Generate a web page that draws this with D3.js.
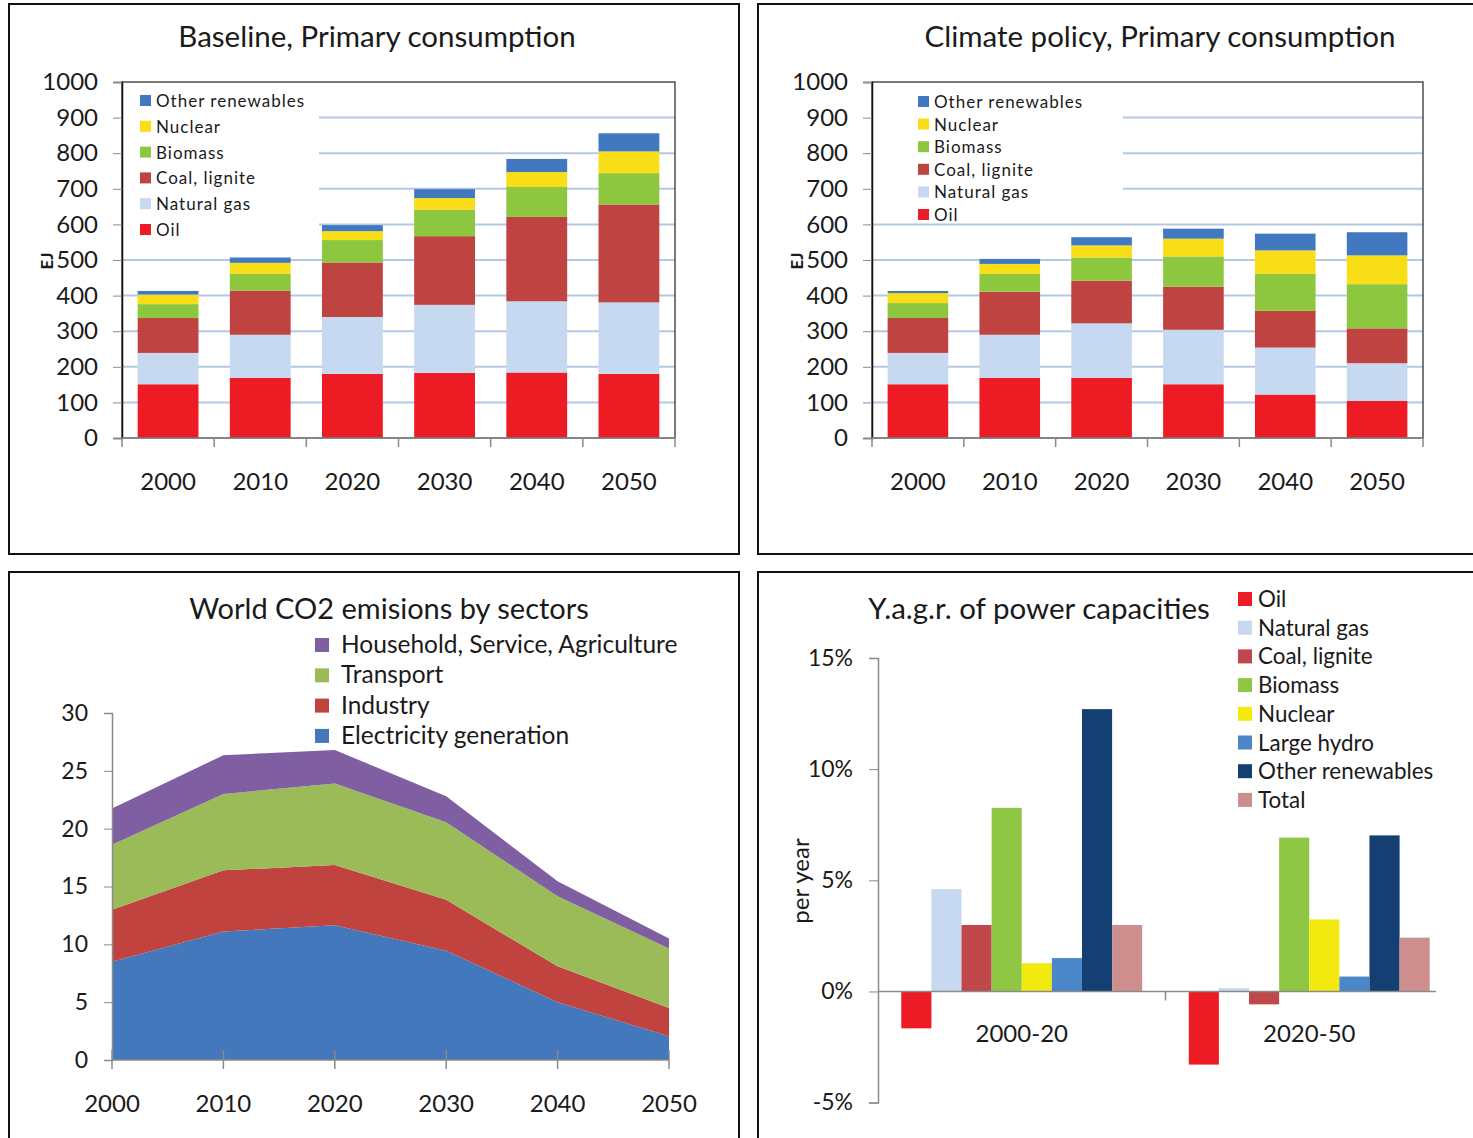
<!DOCTYPE html>
<html>
<head>
<meta charset="utf-8">
<script src="https://cdn.jsdelivr.net/npm/d3@7"></script>
<style>
body { margin: 0; background: #fff; }
svg text { font-family: Lato, "Open Sans", sans-serif; fill: #1a1a1a; }
</style>
</head>
<body>
<svg id="chart" width="1473" height="1138"></svg>
<script>
// ---- data ----
var years = ["2000", "2010", "2020", "2030", "2040", "2050"];
var fuels = ["Oil", "Natural gas", "Coal, lignite", "Biomass", "Nuclear", "Other renewables"];

// Baseline, primary consumption (EJ)
var baseOil     = [151, 169, 180, 183, 184, 180];
var baseGas     = [88, 121, 160, 191, 200, 201];
var baseCoal    = [98, 124, 153, 193, 237, 275];
var baseBiomass = [39, 47, 63, 74, 84, 88];
var baseNuclear = [27, 31, 25, 33, 42, 61];
var baseOther   = [10, 15, 17, 25, 37, 51];

// Climate policy, primary consumption (EJ)
var polOil     = [151, 169, 169, 151, 122, 104];
var polGas     = [88, 121, 153, 153, 132, 106];
var polCoal    = [98, 121, 120, 121, 103, 98];
var polBiomass = [42, 50, 65, 85, 104, 124];
var polNuclear = [28, 28, 34, 50, 66, 81];
var polOther   = [6, 14, 23, 28, 47, 65];

// World CO2 emissions by sector
var sectors = ["Electricity generation", "Industry", "Transport", "Household, Service, Agriculture"];
var co2Elec      = [8.5, 11.1, 11.65, 9.45, 5.0, 2.05];
var co2Industry  = [4.5, 5.3, 5.2, 4.4, 3.1, 2.45];
var co2Transport = [5.6, 6.6, 7.05, 6.7, 6.05, 5.15];
var co2Household = [3.15, 3.35, 2.9, 2.25, 1.3, 0.85];

// Yearly average growth rate of power capacities (%)
var periods = ["2000-20", "2020-50"];
var capSeries = ["Oil", "Natural gas", "Coal, lignite", "Biomass", "Nuclear", "Large hydro", "Other renewables", "Total"];
var cap2000_20 = [-1.66, 4.6, 2.99, 8.26, 1.27, 1.5, 12.7, 2.99];
var cap2020_50 = [-3.29, 0.15, -0.58, 6.92, 3.24, 0.67, 7.02, 2.42];

// ---- colours ----
var fuelColor = d3.scaleOrdinal()
  .domain(fuels)
  .range(["#ED1C24", "#C6D9F0", "#BE4341", "#8DC63F", "#F9DD16", "#4079BF"]);
var sectorColor = d3.scaleOrdinal()
  .domain(sectors)
  .range(["#4379BC", "#C0433F", "#9BBB59", "#7F5FA1"]);
var capColor = d3.scaleOrdinal()
  .domain(capSeries)
  .range(["#ED1C24", "#C6D9F0", "#C0484A", "#8FC744", "#F2EA0F", "#4A86C8", "#143F72", "#CF8E8E"]);

var svg = d3.select("#chart");
var gridColor = "#B4C8E6", axisGrey = "#8a8a8a";

// panel frames
[[9, 4, 730, 550], [758, 4, 730, 550], [9, 572, 730, 580], [758, 572, 730, 580]].forEach(function (r) {
  svg.append("rect").attr("x", r[0]).attr("y", r[1]).attr("width", r[2]).attr("height", r[3])
    .attr("fill", "none").attr("stroke", "#111").attr("stroke-width", 2);
});

// ---- stacked bar panels ----
function primaryPanel(title, cols, o) {
  var g = svg.append("g");
  var rows = years.map(function (y, i) {
    var r = {year: y};
    fuels.forEach(function (f, k) { r[f] = cols[k][i]; });
    return r;
  });
  var x = d3.scaleBand().domain(years).range([o.left, o.right]).paddingInner(0.34).paddingOuter(0.17);
  var y = d3.scaleLinear().domain([0, 1000]).range([438, 82]);

  g.append("text").attr("x", o.titleX).attr("y", 47).attr("text-anchor", "middle")
    .style("font-size", "29.5px").text(title);

  // gridlines
  g.selectAll("line.grid").data(d3.range(100, 1000, 100)).enter().append("line")
    .attr("x1", o.left).attr("x2", o.right).attr("y1", d => y(d)).attr("y2", d => y(d))
    .attr("stroke", gridColor).attr("stroke-width", 2);

  // legend background hides gridlines
  g.append("rect").attr("x", o.left + 1).attr("y", 84).attr("width", o.legendW).attr("height", o.legendH)
    .attr("fill", "#fff");

  var stack = d3.stack().keys(fuels)(rows);
  g.selectAll("g.series").data(stack).enter().append("g")
    .attr("fill", d => fuelColor(d.key))
    .selectAll("rect").data(d => d).enter().append("rect")
    .attr("x", d => x(d.data.year)).attr("width", x.bandwidth())
    .attr("y", d => y(d[1])).attr("height", d => y(d[0]) - y(d[1]));

  // plot frame
  g.append("rect").attr("x", o.left).attr("y", 82).attr("width", o.right - o.left).attr("height", 356)
    .attr("fill", "none").attr("stroke", "#333").attr("stroke-width", 1.3);

  // y axis
  var ya = g.append("g").attr("transform", "translate(" + o.left + ",0)")
    .call(d3.axisLeft(y).tickValues(d3.range(0, 1001, 100)).tickFormat(d3.format("d")).tickSize(9).tickPadding(15));
  ya.select(".domain").attr("stroke", "#111").attr("stroke-width", 1.5);
  ya.selectAll(".tick line").attr("stroke", axisGrey);
  ya.selectAll("text").style("font-size", "24px").attr("fill", "#1a1a1a");

  // x axis
  g.append("line").attr("x1", o.left).attr("x2", o.right).attr("y1", 438).attr("y2", 438)
    .attr("stroke", axisGrey).attr("stroke-width", 1.5);
  g.selectAll("line.xt").data(d3.range(years.length + 1)).enter().append("line")
    .attr("x1", i => o.left + i * x.step()).attr("x2", i => o.left + i * x.step())
    .attr("y1", 438).attr("y2", 447).attr("stroke", axisGrey).attr("stroke-width", 1.5);
  g.selectAll("text.xl").data(years).enter().append("text")
    .attr("x", d => x(d) + x.bandwidth() / 2).attr("y", 490).attr("text-anchor", "middle")
    .style("font-size", "24px").text(d => d);

  // unit
  g.append("text").attr("transform", "translate(" + (o.left - 69) + ",261) rotate(-90)")
    .attr("text-anchor", "middle").style("font-size", "17px").style("font-weight", "bold").text("EJ");

  // legend
  var leg = g.selectAll("g.leg").data(fuels.slice().reverse()).enter().append("g")
    .attr("transform", (d, i) => "translate(" + o.legendX + "," + (o.legendY + i * o.legendStep) + ")");
  leg.append("rect").attr("x", 0).attr("y", -6).attr("width", 11).attr("height", 11).attr("fill", d => fuelColor(d));
  leg.append("text").attr("x", 16).attr("y", 6).style("font-size", "17px").style("letter-spacing", "1px").text(d => d);
}

primaryPanel("Baseline, Primary consumption",
  [baseOil, baseGas, baseCoal, baseBiomass, baseNuclear, baseOther],
  {left: 122, right: 675, titleX: 377, legendW: 196, legendH: 160, legendX: 140, legendY: 101, legendStep: 25.8});

primaryPanel("Climate policy, Primary consumption",
  [polOil, polGas, polCoal, polBiomass, polNuclear, polOther],
  {left: 872, right: 1423, titleX: 1160, legendW: 250, legendH: 138, legendX: 918, legendY: 102, legendStep: 22.6});

// ---- CO2 area panel ----
(function () {
  var g = svg.append("g");
  var yrs = years.map(Number);
  var rows = yrs.map(function (yr, i) {
    return {year: yr, "Electricity generation": co2Elec[i], "Industry": co2Industry[i],
      "Transport": co2Transport[i], "Household, Service, Agriculture": co2Household[i]};
  });
  var x = d3.scaleLinear().domain([2000, 2050]).range([112, 669]);
  var y = d3.scaleLinear().domain([0, 30]).range([1060, 713]);

  g.append("text").attr("x", 389).attr("y", 619).attr("text-anchor", "middle")
    .style("font-size", "29px").text("World CO2 emisions by sectors");

  var stack = d3.stack().keys(sectors)(rows);
  var area = d3.area().x(d => x(d.data.year)).y0(d => y(d[0])).y1(d => y(d[1]));
  g.selectAll("path.area").data(stack).enter().append("path")
    .attr("fill", d => sectorColor(d.key)).attr("d", area);

  var ya = g.append("g").attr("transform", "translate(112,0)")
    .call(d3.axisLeft(y).tickValues(d3.range(0, 31, 5)).tickSize(8).tickPadding(16));
  ya.select(".domain").attr("stroke", axisGrey).attr("stroke-width", 1.5);
  ya.selectAll(".tick line").attr("stroke", axisGrey);
  ya.selectAll("text").style("font-size", "23px").attr("fill", "#1a1a1a");

  g.append("line").attr("x1", 112).attr("x2", 669).attr("y1", 1060).attr("y2", 1060)
    .attr("stroke", axisGrey).attr("stroke-width", 1.5);
  g.selectAll("line.xt").data(yrs).enter().append("line")
    .attr("x1", d => x(d)).attr("x2", d => x(d)).attr("y1", 1050).attr("y2", 1069)
    .attr("stroke", axisGrey).attr("stroke-width", 1.5);
  g.selectAll("text.xl").data(yrs).enter().append("text")
    .attr("x", d => x(d)).attr("y", 1112).attr("text-anchor", "middle")
    .style("font-size", "24px").text(d => d);

  var leg = g.selectAll("g.leg").data(sectors.slice().reverse()).enter().append("g")
    .attr("transform", (d, i) => "translate(315," + (645 + i * 30.3) + ")");
  leg.append("rect").attr("x", 0).attr("y", -7).attr("width", 14).attr("height", 14).attr("fill", d => sectorColor(d));
  leg.append("text").attr("x", 26).attr("y", 8).style("font-size", "24.5px").text(d => d);
})();

// ---- growth rate panel ----
(function () {
  var g = svg.append("g");
  var vals = {"2000-20": cap2000_20, "2020-50": cap2020_50};
  var x0 = d3.scaleBand().domain(periods).range([878, 1453]).paddingInner(0.162).paddingOuter(0.081);
  var x1 = d3.scaleBand().domain(capSeries).range([0, x0.bandwidth()]);
  var y = d3.scaleLinear().domain([-5, 15]).range([1102.6, 658]);

  g.append("text").attr("x", 1039).attr("y", 619).attr("text-anchor", "middle")
    .style("font-size", "29.5px").text("Y.a.g.r. of power capacities");

  periods.forEach(function (p) {
    g.selectAll("rect.p" + p).data(capSeries).enter().append("rect")
      .attr("x", s => x0(p) + x1(s)).attr("width", x1.bandwidth())
      .attr("y", (s, i) => y(Math.max(0, vals[p][i])))
      .attr("height", (s, i) => Math.abs(y(vals[p][i]) - y(0)))
      .attr("fill", s => capColor(s));
  });

  var ya = g.append("g").attr("transform", "translate(878,0)")
    .call(d3.axisLeft(y).tickValues([-5, 0, 5, 10, 15]).tickFormat(d => d + "%").tickSize(9).tickPadding(16));
  ya.select(".domain").attr("stroke", axisGrey).attr("stroke-width", 1.5);
  ya.selectAll(".tick line").attr("stroke", axisGrey);
  ya.selectAll("text").style("font-size", "23px").attr("fill", "#1a1a1a");

  g.append("line").attr("x1", 878).attr("x2", 1436).attr("y1", y(0)).attr("y2", y(0))
    .attr("stroke", axisGrey).attr("stroke-width", 1.5);
  var mid = x0("2020-50") - x0.step() * x0.paddingInner() / 2;
  g.append("line").attr("x1", mid).attr("x2", mid).attr("y1", y(0)).attr("y2", y(0) + 9)
    .attr("stroke", axisGrey).attr("stroke-width", 1.5);
  g.selectAll("text.xl").data(periods).enter().append("text")
    .attr("x", d => x0(d) + x0.bandwidth() / 2).attr("y", 1042).attr("text-anchor", "middle")
    .style("font-size", "24px").text(d => d);

  g.append("text").attr("transform", "translate(809,881) rotate(-90)").attr("text-anchor", "middle")
    .style("font-size", "24px").text("per year");

  var leg = g.selectAll("g.leg").data(capSeries).enter().append("g")
    .attr("transform", (d, i) => "translate(1238," + (599 + i * 28.7) + ")");
  leg.append("rect").attr("x", 0).attr("y", -7).attr("width", 14).attr("height", 14).attr("fill", d => capColor(d));
  leg.append("text").attr("x", 20).attr("y", 8).style("font-size", "22.4px").text(d => d);
})();
</script>
</body>
</html>
